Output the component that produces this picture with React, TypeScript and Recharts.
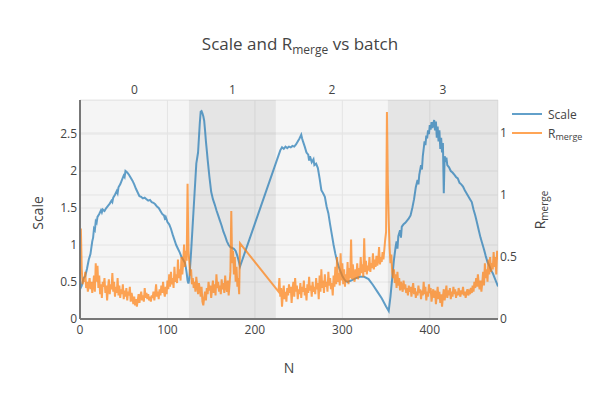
import {
  ComposedChart,
  Line,
  XAxis,
  YAxis,
  CartesianGrid,
  ReferenceArea,
} from "recharts";

// batches shown as shaded bands along N
const batchLabels = ["0", "1", "2", "3"];
const batchEdges = [0, 124.5, 224, 352, 478];
const batchFills = [0.04, 0.1, 0.04, 0.1];

const xTicks = [0, 100, 200, 300, 400];
const scaleTicks = [0, 0.5, 1, 1.5, 2, 2.5];
const rmergeTicks = [0, 0.5, 1, 1.5];
const rmergeTickLabels = ["0", "0.5", "1", "1"];

// Scale: [N, value]
const scaleBatch0: [number, number][] = [
  [0, 0.4], [2, 0.45], [4, 0.55], [6, 0.58], [8, 0.68], [10, 0.8], [12, 0.88], [14, 1.05],
  [15, 1.1], [16, 1.22], [17, 1.2], [18, 1.32], [19, 1.3], [20, 1.38], [22, 1.42], [24, 1.47],
  [25, 1.44], [26, 1.48], [28, 1.46], [30, 1.5], [32, 1.53], [34, 1.56], [36, 1.6], [37, 1.58],
  [38, 1.64], [40, 1.68], [42, 1.73], [43, 1.7], [44, 1.78], [46, 1.82], [48, 1.88], [50, 1.94],
  [51, 1.92], [52, 2.0], [54, 1.98], [56, 1.95], [58, 1.91], [60, 1.87], [62, 1.82], [64, 1.76],
  [66, 1.71], [68, 1.66], [70, 1.65], [72, 1.63], [74, 1.64], [76, 1.62], [78, 1.6], [80, 1.61],
  [82, 1.58], [84, 1.57], [86, 1.55], [88, 1.52], [90, 1.5], [92, 1.46], [94, 1.42], [96, 1.4],
  [97, 1.36], [98, 1.38], [100, 1.31], [102, 1.28], [104, 1.22], [106, 1.14], [108, 1.07],
  [110, 1.0], [112, 0.95], [114, 0.9], [116, 0.84], [118, 0.8], [120, 0.76], [121, 0.7],
  [122, 0.62], [123, 0.52], [124, 0.48],
];
const scaleBatch1: [number, number][] = [
  [125, 0.55], [127, 0.9], [129, 1.3], [131, 1.7], [133, 2.1], [135, 2.25], [136, 2.45],
  [137, 2.65], [138, 2.8], [139, 2.81], [140, 2.78], [141, 2.74], [142, 2.68], [143, 2.55],
  [144, 2.4], [145, 2.28], [146, 2.15], [148, 1.92], [150, 1.72], [152, 1.62], [154, 1.55],
  [156, 1.47], [158, 1.4], [160, 1.33], [162, 1.26], [164, 1.18], [166, 1.12], [168, 1.05],
  [170, 1.0], [172, 0.97], [174, 0.96], [176, 0.95], [178, 0.92], [180, 0.85], [182, 0.76],
  [183, 0.71],
];
const scaleBatch2: [number, number][] = [
  [229, 2.28], [231, 2.32], [233, 2.3], [235, 2.33], [237, 2.31], [239, 2.33], [241, 2.32],
  [243, 2.34], [245, 2.33], [247, 2.36], [249, 2.4], [251, 2.44], [253, 2.49], [254, 2.44],
  [255, 2.4], [257, 2.33], [259, 2.25], [261, 2.22], [262, 2.14], [263, 2.2], [265, 2.12],
  [267, 2.16], [268, 2.08], [270, 2.1], [272, 2.04], [274, 1.9], [276, 1.74], [278, 1.7],
  [280, 1.65], [282, 1.52], [284, 1.43], [286, 1.28], [288, 1.14], [290, 1.0], [292, 0.88],
  [294, 0.78], [296, 0.7], [298, 0.64], [300, 0.58], [302, 0.54], [304, 0.51], [306, 0.5],
  [310, 0.52], [315, 0.55], [320, 0.57], [325, 0.57], [330, 0.54], [335, 0.46], [340, 0.37],
  [345, 0.28], [350, 0.17], [353, 0.11],
];
const scaleBatch3: [number, number][] = [
  [355, 0.3], [357, 0.55], [359, 0.8], [361, 0.98], [362, 1.05], [363, 0.95], [364, 1.12],
  [366, 1.2], [367, 1.1], [368, 1.25], [370, 1.28], [372, 1.3], [374, 1.33], [376, 1.36],
  [378, 1.4], [380, 1.5], [382, 1.62], [384, 1.78], [386, 1.88], [387, 1.82], [388, 1.95],
  [390, 2.08], [391, 2.02], [392, 2.2], [393, 2.3], [394, 2.4], [395, 2.35], [396, 2.48],
  [397, 2.44], [398, 2.55], [399, 2.5], [400, 2.62], [401, 2.56], [402, 2.66], [403, 2.58],
  [404, 2.64], [405, 2.69], [406, 2.55], [407, 2.67], [408, 2.45], [409, 2.6], [410, 2.4],
  [411, 2.55], [412, 2.3], [413, 2.45], [414, 2.25], [415, 2.38], [416, 1.7], [417, 2.2],
  [418, 2.15], [419, 2.18], [420, 2.08], [422, 2.05], [424, 2.0], [426, 1.98], [428, 1.95],
  [430, 1.92], [432, 1.9], [434, 1.84], [436, 1.82], [438, 1.79], [440, 1.74], [442, 1.7],
  [444, 1.66], [446, 1.62], [448, 1.58], [450, 1.48], [452, 1.4], [454, 1.3], [456, 1.2],
  [458, 1.1], [460, 1.02], [462, 0.94], [464, 0.85], [466, 0.77], [468, 0.72], [470, 0.66],
  [472, 0.62], [474, 0.56], [476, 0.5], [478, 0.44],
];

// R_merge: one value per N, two runs (nothing recorded between 184 and 226)
const rmergeRunAStart = 0;
const rmergeRunA = [
  0.35, 0.73, 0.4, 0.28, 0.33, 0.3, 0.38, 0.25, 0.3, 0.22,
  0.28, 0.33, 0.24, 0.3, 0.21, 0.27, 0.35, 0.22, 0.45, 0.3,
  0.43, 0.25, 0.35, 0.2, 0.28, 0.17, 0.3, 0.26, 0.33, 0.21,
  0.27, 0.15, 0.25, 0.32, 0.2, 0.28, 0.24, 0.37, 0.22, 0.3,
  0.18, 0.26, 0.21, 0.33, 0.19, 0.27, 0.17, 0.24, 0.2, 0.28,
  0.16, 0.23, 0.18, 0.25, 0.15, 0.22, 0.19, 0.26, 0.14, 0.21,
  0.17, 0.12, 0.18, 0.11, 0.16, 0.1, 0.15, 0.2, 0.13, 0.18,
  0.22, 0.15, 0.19, 0.14, 0.25, 0.17, 0.21, 0.16, 0.2, 0.15,
  0.18, 0.14, 0.19, 0.17, 0.22, 0.15, 0.2, 0.28, 0.18, 0.22,
  0.16, 0.24, 0.19, 0.27, 0.21, 0.3, 0.22, 0.18, 0.26, 0.2,
  0.31, 0.24, 0.36, 0.26, 0.38, 0.28, 0.33, 0.25, 0.42, 0.3,
  0.36, 0.29, 0.48, 0.33, 0.4, 0.31, 0.5, 0.36, 0.45, 0.6,
  0.42, 0.55, 0.47, 1.09, 0.55, 0.46, 0.35, 0.4, 0.28, 0.33,
  0.25, 0.3, 0.22, 0.34, 0.27, 0.2, 0.29, 0.24, 0.18, 0.26,
  0.14, 0.11, 0.17, 0.22, 0.15, 0.25, 0.2, 0.3, 0.23, 0.27,
  0.17, 0.24, 0.31, 0.21, 0.28, 0.19, 0.36, 0.25, 0.3, 0.22,
  0.27, 0.2, 0.32, 0.24, 0.29, 0.21, 0.35, 0.26, 0.22, 0.31,
  0.19, 0.28, 0.38, 0.87, 0.45, 0.55, 0.36, 0.5, 0.3, 0.42,
  0.26, 0.33, 0.2, 0.61,
];
const rmergeRunBStart = 227;
const rmergeRunB = [
  0.22, 0.33, 0.18, 0.25, 0.1, 0.2, 0.27, 0.16, 0.22, 0.14,
  0.25, 0.19, 0.28, 0.21, 0.26, 0.13, 0.24, 0.3, 0.18, 0.33,
  0.22, 0.27, 0.16, 0.24, 0.2, 0.29, 0.17, 0.26, 0.22, 0.31,
  0.19, 0.25, 0.15, 0.28, 0.21, 0.34, 0.23, 0.27, 0.18, 0.3,
  0.22, 0.26, 0.2, 0.33, 0.24, 0.29, 0.16, 0.35, 0.22, 0.4,
  0.25, 0.31, 0.21, 0.36, 0.26, 0.3, 0.22, 0.38, 0.27, 0.33,
  0.24, 0.29, 0.19, 0.35, 0.26, 0.42, 0.28, 0.5, 0.3, 0.37,
  0.27, 0.53, 0.31, 0.45, 0.28, 0.4, 0.26, 0.36, 0.3, 0.46,
  0.28, 0.41, 0.33, 0.64, 0.32, 0.44, 0.35, 0.3, 0.4, 0.33,
  0.45, 0.32, 0.41, 0.35, 0.5, 0.37, 0.44, 0.34, 0.65, 0.38,
  0.47, 0.36, 0.43, 0.39, 0.5, 0.38, 0.45, 0.41, 0.53, 0.4,
  0.48, 0.42, 0.51, 0.43, 0.47, 0.58, 0.44, 0.5, 0.46, 0.54,
  0.48, 0.56, 0.64, 0.7, 1.67, 1.09, 0.8, 0.58, 0.45, 0.52,
  0.38, 0.33, 0.4, 0.29, 0.36, 0.25, 0.38, 0.27, 0.33, 0.23,
  0.3, 0.26, 0.22, 0.31, 0.24, 0.28, 0.21, 0.25, 0.19, 0.27,
  0.22, 0.26, 0.18, 0.24, 0.29, 0.2, 0.25, 0.17, 0.22, 0.19,
  0.27, 0.21, 0.24, 0.16, 0.23, 0.19, 0.3, 0.2, 0.26, 0.15,
  0.22, 0.18, 0.28, 0.21, 0.25, 0.14, 0.2, 0.24, 0.17, 0.23,
  0.12, 0.19, 0.26, 0.16, 0.22, 0.13, 0.2, 0.1, 0.18, 0.24,
  0.15, 0.21, 0.27, 0.17, 0.23, 0.19, 0.25, 0.16, 0.22, 0.18,
  0.26, 0.2, 0.24, 0.17, 0.22, 0.19, 0.25, 0.21, 0.18, 0.23,
  0.2, 0.26, 0.19, 0.22, 0.17, 0.21, 0.24, 0.19, 0.22, 0.2,
  0.25, 0.21, 0.27, 0.22, 0.3, 0.25, 0.33, 0.26, 0.36, 0.28,
  0.24, 0.31, 0.22, 0.29, 0.38, 0.27, 0.45, 0.33, 0.4, 0.3,
  0.48, 0.36, 0.5, 0.38, 0.45, 0.4, 0.54, 0.42, 0.5, 0.36,
  0.55, 0.48,
];

const scaleData = [...scaleBatch0, ...scaleBatch1, ...scaleBatch2, ...scaleBatch3].map(
  ([n, v]) => ({ n, v })
);
const rmergeData = [
  ...rmergeRunA.map((v, i) => ({ n: rmergeRunAStart + i, v })),
  ...rmergeRunB.map((v, i) => ({ n: rmergeRunBStart + i, v })),
];

const FONT = '"Open Sans", verdana, arial, sans-serif';
const TEXT = "#444";
const BLUE = "#1f77b4";
const ORANGE = "#ff7f0e";

export default function App() {
  return (
    <div style={{ position: "absolute", left: 0, top: 0, width: 600, height: 400, fontFamily: FONT, background: "#fff" }}>
      <ComposedChart width={600} height={400} margin={{ top: 100, right: 0, bottom: 0, left: 0 }}>
        <CartesianGrid yAxisId="left" stroke="#eeeeee" strokeWidth={1} />
        <CartesianGrid yAxisId="right" vertical={false} stroke="#eeeeee" strokeWidth={1} />
        {batchLabels.map((label, i) => (
          <ReferenceArea
            key={label}
            yAxisId="left"
            x1={batchEdges[i]}
            x2={batchEdges[i + 1]}
            y1={0}
            y2={2.96}
            fill="#000"
            fillOpacity={batchFills[i]}
            stroke="none"
            label={{ value: label, position: "top", offset: 6, fill: TEXT, fontSize: 12 }}
          />
        ))}
        <XAxis
          dataKey="n"
          type="number"
          domain={[0, 478]}
          ticks={xTicks}
          allowDataOverflow
          height={81}
          tickLine={false}
          tickSize={6}
          tickMargin={0}
          axisLine={{ stroke: "#777", strokeWidth: 2 }}
          tick={{ fill: TEXT, fontSize: 12 }}
        />
        <YAxis
          yAxisId="left"
          type="number"
          domain={[0, 2.96]}
          ticks={scaleTicks}
          allowDataOverflow
          width={80}
          tickLine={false}
          tickSize={0}
          tickMargin={3}
          axisLine={{ stroke: "#777", strokeWidth: 2 }}
          tick={{ fill: TEXT, fontSize: 12 }}
        />
        <YAxis
          yAxisId="right"
          orientation="right"
          type="number"
          domain={[0, 1.766]}
          ticks={rmergeTicks}
          tickFormatter={(v: number) => rmergeTickLabels[rmergeTicks.indexOf(v)] ?? String(v)}
          allowDataOverflow
          width={102}
          tickLine={false}
          tickSize={0}
          tickMargin={2}
          axisLine={false}
          tick={{ fill: TEXT, fontSize: 12 }}
        />
        <Line
          data={scaleData}
          yAxisId="left"
          dataKey="v"
          name="Scale"
          type="linear"
          stroke={BLUE}
          strokeOpacity={0.7}
          strokeWidth={2}
          dot={false}
          isAnimationActive={false}
        />
        <Line
          data={rmergeData}
          yAxisId="right"
          dataKey="v"
          name="Rmerge"
          type="linear"
          stroke={ORANGE}
          strokeOpacity={0.7}
          strokeWidth={2}
          dot={false}
          isAnimationActive={false}
        />
      </ComposedChart>
      <svg
        width={600}
        height={400}
        style={{ position: "absolute", left: 0, top: 0, pointerEvents: "none", fontFamily: FONT }}
      >
        <text x={300} y={50} textAnchor="middle" fontSize={17} fill={TEXT}>
          Scale and R
          <tspan fontSize={12} dy={4}>merge</tspan>
          <tspan dy={-4}> vs batch</tspan>
        </text>
        <text x={289} y={367} textAnchor="middle" dominantBaseline="central" fontSize={14} fill={TEXT}>
          N
        </text>
        <text
          x={37}
          y={213}
          textAnchor="middle"
          dominantBaseline="central"
          fontSize={14}
          fill={TEXT}
          transform="rotate(-90 37 213)"
        >
          Scale
        </text>
        <text x={545} y={210} textAnchor="middle" fontSize={14} fill={TEXT} transform="rotate(-90 545 210)">
          R<tspan fontSize={10} dy={3}>merge</tspan>
        </text>
        <line x1={512} y1={114} x2={542} y2={114} stroke={BLUE} strokeOpacity={0.7} strokeWidth={2} />
        <text x={548} y={114} dominantBaseline="central" fontSize={12} fill={TEXT}>
          Scale
        </text>
        <line x1={512} y1={133} x2={542} y2={133} stroke={ORANGE} strokeOpacity={0.7} strokeWidth={2} />
        <text x={548} y={133} dominantBaseline="central" fontSize={12} fill={TEXT}>
          R<tspan fontSize={9} dy={3}>merge</tspan>
        </text>
      </svg>
    </div>
  );
}
